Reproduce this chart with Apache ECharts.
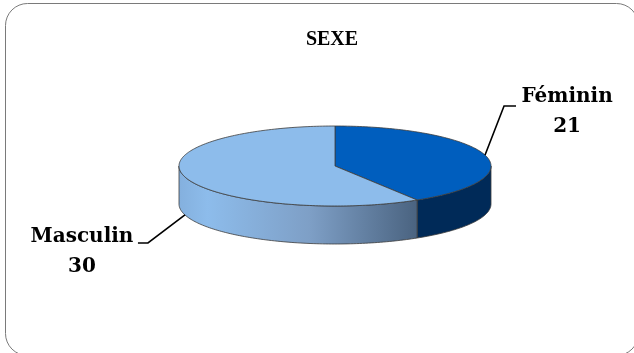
<!DOCTYPE html>
<html>
<head>
<meta charset="utf-8">
<script src="https://cdn.jsdelivr.net/npm/echarts@6/dist/echarts.min.js"></script>
<style>
html,body{margin:0;padding:0;background:#fff;}
#chart{width:634px;height:353px;}
</style>
</head>
<body>
<div id="chart"></div>
<script>
// ---- data ----
const categories = ['Féminin', 'Masculin'];
const values = [21, 30];
const chartTitle = 'SEXE';

// ---- styles ----
const topColors = ['#005EBE', '#8DBCEB'];
const sideColors = [
  '#002A58',
  { type: 'linear', x: 0, y: 0, x2: 1, y2: 0, colorStops: [
    { offset: 0, color: '#84B0DE' },
    { offset: 0.12, color: '#8DBCEB' },
    { offset: 0.55, color: '#7E9FC6' },
    { offset: 1, color: '#4A6380' }
  ] }
];

// ---- layout ----
const PIE = { cx: 335, cy: 166, rx: 156, ry: 40, depth: 38 };
const LEADERS = [
  { elbow: [19, -49], end: [12, 0], text: [82, -43] },
  { elbow: [-37, 28], end: [-10, 0], text: [-103, 37] }
];
const FONT = 'bold 20px "DejaVu Serif", serif';

const total = values.reduce((a, b) => a + b, 0);
const starts = [];
values.reduce((acc, v, i) => { starts[i] = acc; return acc + v; }, 0);

function pt(theta, dy) {
  return [PIE.cx + PIE.rx * Math.sin(theta), PIE.cy - PIE.ry * Math.cos(theta) + (dy || 0)];
}
function arc(a0, a1, dy) {
  const pts = [];
  const n = Math.max(2, Math.ceil(Math.abs(a1 - a0) / 0.02));
  for (let k = 0; k <= n; k++) pts.push(pt(a0 + (a1 - a0) * k / n, dy));
  return pts;
}

function renderItem(params, api) {
  const i = params.dataIndex;
  const v = api.value(0);
  const a0 = starts[i] / total * 2 * Math.PI;
  const a1 = (starts[i] + v) / total * 2 * Math.PI;
  const children = [];
  const stroke = '#3c3c3c';

  // front side wall (between 90° and 270°, measured clockwise from top)
  const s0 = Math.max(a0, Math.PI / 2), s1 = Math.min(a1, 3 * Math.PI / 2);
  if (s1 > s0) {
    const topArc = arc(s0, s1, 0);
    const botArc = arc(s1, s0, PIE.depth);
    const fill = sideColors[i];
    let f = fill;
    if (typeof fill === 'object') {
      const xa = topArc[0][0], xb = topArc[topArc.length - 1][0];
      f = Object.assign({}, fill, { global: true, x: Math.min(xa, xb), x2: Math.max(xa, xb), y: 0, y2: 0 });
    }
    children.push({
      type: 'polygon', z2: 1,
      shape: { points: topArc.concat(botArc) },
      style: { fill: f, stroke: stroke, lineWidth: 0.8 }
    });
  }
  // top face
  children.push({
    type: 'polygon', z2: 5,
    shape: { points: [[PIE.cx, PIE.cy]].concat(arc(a0, a1, 0)) },
    style: { fill: topColors[i], stroke: stroke, lineWidth: 0.8 }
  });

  // label with leader
  const mid = (a0 + a1) / 2;
  const anchor = pt(mid, Math.cos(mid) < 0 ? PIE.depth : 0);
  const L = LEADERS[i];
  const elbow = [anchor[0] + L.elbow[0], anchor[1] + L.elbow[1]];
  const end = [elbow[0] + L.end[0], elbow[1] + L.end[1]];
  children.push({
    type: 'polyline', z2: 10,
    shape: { points: [anchor, elbow, end] },
    style: { stroke: '#000', lineWidth: 1.6, fill: null }
  });
  children.push({
    type: 'text', z2: 10,
    style: {
      text: categories[i] + '\n' + v,
      x: anchor[0] + L.text[0], y: anchor[1] + L.text[1],
      align: 'center', verticalAlign: 'middle',
      font: FONT, lineHeight: 30, fill: '#000'
    }
  });
  return { type: 'group', children: children };
}

const chart = echarts.init(document.getElementById('chart'));
chart.setOption({
  animation: false,
  backgroundColor: '#fff',
  title: {
    text: chartTitle, left: 327, top: 25, textAlign: 'center',
    textStyle: { fontFamily: '"Liberation Serif", serif', fontWeight: 'bold', fontSize: 20, color: '#000' }
  },
  graphic: [{
    type: 'rect', z: -1,
    shape: { x: 5.5, y: 3.5, width: 633, height: 352, r: 22 },
    style: { fill: 'none', stroke: '#7a7a7a', lineWidth: 1 }
  }],
  series: [{
    type: 'custom',
    coordinateSystem: 'none',
    renderItem: renderItem,
    data: values.map((v, i) => ({ name: categories[i], value: [v] }))
  }]
});
</script>
</body>
</html>
